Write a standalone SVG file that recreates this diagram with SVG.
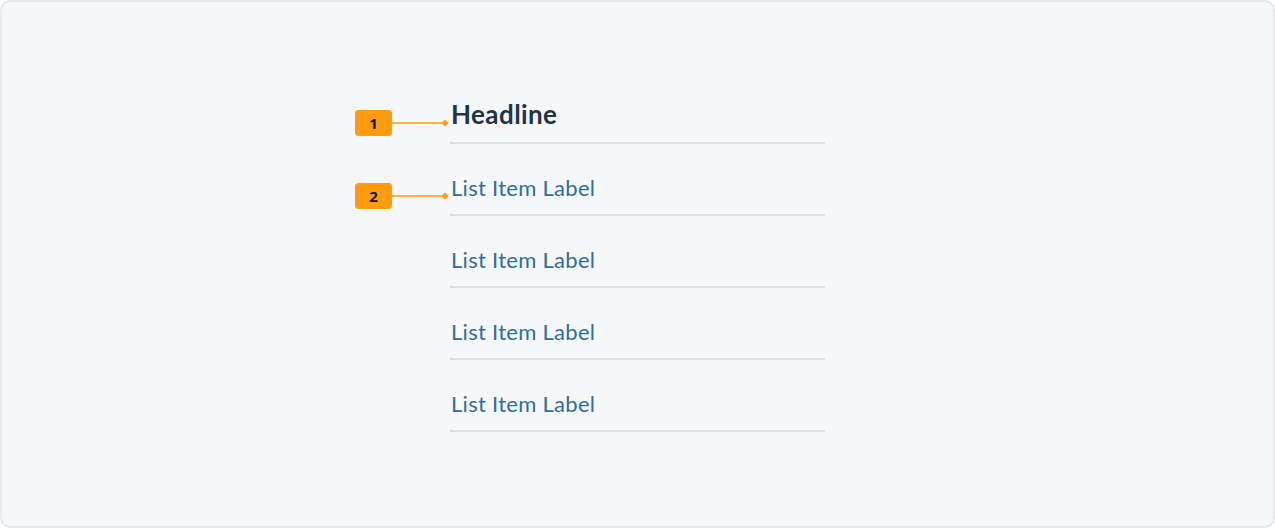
<svg xmlns="http://www.w3.org/2000/svg" width="1275" height="528" viewBox="0 0 1275 528">
<style>
.card{fill:#f6f7f9;stroke:#e2e4e7;stroke-width:1.5}
.badge{fill:#ff9b0f}
.num{font-family:"Open Sans","Liberation Sans",sans-serif;font-size:15px;font-weight:bold;fill:#111;text-anchor:middle}
.lead{stroke:#ff9b0f;stroke-width:1.5;fill:none}
.dot{fill:#ff9b0f}
.sep{stroke:#dcdee2;stroke-width:2}
.head{font-family:Lato,"Open Sans",sans-serif;font-size:26px;font-weight:bold;fill:#1f3349}
.item{font-family:Lato,"Open Sans",sans-serif;font-size:22px;fill:#2f6e9d}
</style>
<rect width="1275" height="528" fill="#ffffff"/>
<rect class="card" x="1" y="1" width="1273" height="526" rx="9"/>
<g id="connectors">
<line class="lead" x1="391" y1="123" x2="445" y2="123"/>
<path class="dot" d="M445 119.5 L448.5 123 L445 126.5 L441.5 123 Z"/>
<line class="lead" x1="391" y1="196" x2="445" y2="196"/>
<path class="dot" d="M445 192.5 L448.5 196 L445 199.5 L441.5 196 Z"/>
</g>
<g id="badge1"><rect class="badge" x="355" y="110" width="37" height="26" rx="3.5"/><text class="num" x="373.5" y="128.5">1</text></g>
<g id="badge2"><rect class="badge" x="355" y="183" width="37" height="26" rx="3.5"/><text class="num" x="373.5" y="201.5">2</text></g>
<g id="headline"><text class="head" x="451" y="124" textLength="106" lengthAdjust="spacing">Headline</text><line class="sep" x1="450" y1="143" x2="825" y2="143"/></g>
<g id="item1"><text class="item" x="451" y="196" textLength="144" lengthAdjust="spacing">List Item Label</text><line class="sep" x1="450" y1="215" x2="825" y2="215"/></g>
<g id="item2"><text class="item" x="451" y="268" textLength="144" lengthAdjust="spacing">List Item Label</text><line class="sep" x1="450" y1="287" x2="825" y2="287"/></g>
<g id="item3"><text class="item" x="451" y="340" textLength="144" lengthAdjust="spacing">List Item Label</text><line class="sep" x1="450" y1="359" x2="825" y2="359"/></g>
<g id="item4"><text class="item" x="451" y="412" textLength="144" lengthAdjust="spacing">List Item Label</text><line class="sep" x1="450" y1="431" x2="825" y2="431"/></g>
</svg>
